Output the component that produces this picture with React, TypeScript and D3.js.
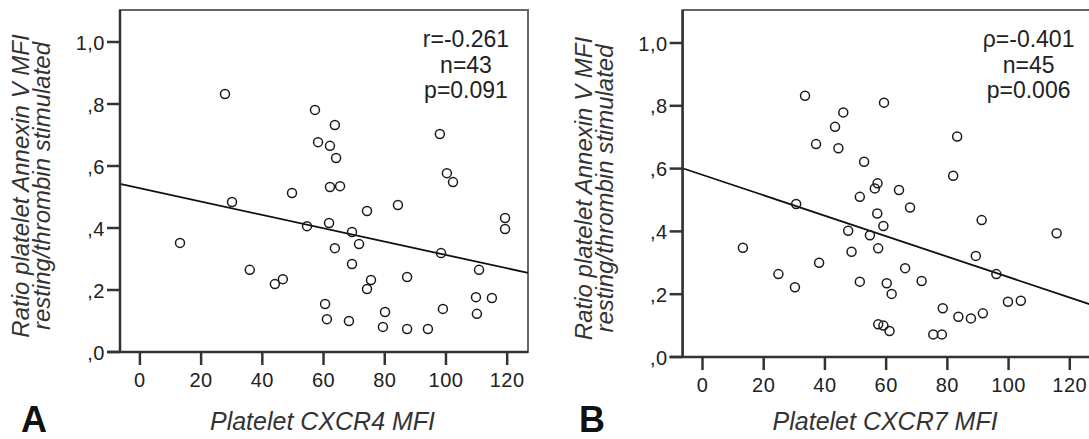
import * as d3 from "d3";

// axis ticks (SPSS style labels)
const xTicks = [0, 20, 40, 60, 80, 100, 120];
const yTicks = [0, 0.2, 0.4, 0.6, 0.8, 1.0];
const yTickLabels = [",0", ",2", ",4", ",6", ",8", "1,0"];

// Panel A: CXCR4 MFI vs Annexin V ratio
const cxcr4X = [13.1, 27.8, 30.1, 35.9, 44.1, 46.7, 49.7, 54.6, 57.2, 58.2, 62.1, 63.7, 64.1, 62.1, 65.4, 61.8, 63.7, 60.5, 61.1, 68.3, 69.3, 71.6, 69.3, 74.2, 75.5, 74.2, 84.3, 80.1, 79.4, 87.3, 87.3, 94.1, 98.0, 100.3, 102.3, 98.4, 99.0, 110.8, 109.8, 115.0, 110.1, 119.3, 119.3];
const cxcr4Y = [0.352, 0.832, 0.484, 0.265, 0.219, 0.235, 0.513, 0.406, 0.781, 0.677, 0.665, 0.732, 0.626, 0.532, 0.535, 0.416, 0.335, 0.155, 0.106, 0.1, 0.387, 0.348, 0.284, 0.455, 0.232, 0.203, 0.474, 0.129, 0.081, 0.242, 0.074, 0.074, 0.703, 0.577, 0.548, 0.319, 0.139, 0.265, 0.177, 0.174, 0.123, 0.432, 0.397];

// Panel B: CXCR7 MFI vs Annexin V ratio
const cxcr7X = [13.2, 24.8, 30.2, 30.6, 33.5, 37.1, 38.1, 43.3, 46.0, 44.4, 52.8, 51.4, 47.6, 48.7, 51.4, 54.7, 57.2, 56.3, 57.1, 59.3, 59.1, 57.4, 64.2, 67.8, 60.2, 61.8, 66.2, 71.6, 57.4, 59.1, 61.1, 75.4, 78.2, 78.5, 83.6, 87.7, 91.6, 83.2, 81.9, 91.2, 89.3, 96.0, 99.8, 104.0, 115.7];
const cxcr7Y = [0.348, 0.264, 0.222, 0.487, 0.832, 0.678, 0.3, 0.733, 0.779, 0.665, 0.622, 0.51, 0.402, 0.335, 0.24, 0.388, 0.553, 0.537, 0.457, 0.81, 0.417, 0.346, 0.532, 0.476, 0.235, 0.201, 0.283, 0.242, 0.104, 0.1, 0.083, 0.072, 0.072, 0.155, 0.128, 0.123, 0.139, 0.702, 0.577, 0.436, 0.322, 0.264, 0.176, 0.179, 0.394];

// regression lines
const fitA = { intercept: 0.528, slope: -0.00215 };
const fitB = { intercept: 0.58, slope: -0.003256 };

const statsA = ["r=-0.261", "n=43", "p=0.091"];
const statsB = ["\u03C1=-0.401", "n=45", "p=0.006"];

const FONT = "'Liberation Sans', Arial, sans-serif";
const INK = "#222";

type PanelProps = {
  left: number;
  top: number;
  bottom: number;
  unit: number;
  xs: number[];
  ys: number[];
  fit: { intercept: number; slope: number };
  stats: string[];
  xTitle: string;
  letter: string;
  letterX: number;
};

const Panel = ({ left, top, bottom, unit, xs, ys, fit, stats, xTitle, letter, letterX }: PanelProps) => {
  const width = 408;
  const right = left + width;
  const x = d3.scaleLinear().domain([-6.5, 126.8]).range([left, right]);
  const y = d3.scaleLinear().domain([0, 1]).range([bottom, bottom - unit]);
  const [d0, d1] = x.domain();
  const line = d3
    .line<number>()
    .x((d) => x(d))
    .y((d) => y(fit.intercept + fit.slope * d));
  const midX = (left + right) / 2;
  const titleY = 186 + (bottom - 352) / 2;

  return (
    <g>
      <rect x={left} y={top} width={width} height={bottom - top} fill="#fff" stroke="#666" strokeWidth={2} />
      {/* regression line */}
      <path d={line([d0, d1]) || ""} fill="none" stroke="#111" strokeWidth={1.8} />
      {/* points */}
      {xs.map((v, i) => (
        <circle key={i} cx={x(v)} cy={y(ys[i])} r={4.5} fill="none" stroke="#1a1a1a" strokeWidth={1.5} />
      ))}
      {/* axes */}
      <line x1={left} x2={left} y1={top} y2={bottom} stroke="#333" strokeWidth={2.5} />
      <line x1={left - 13} x2={right} y1={bottom} y2={bottom} stroke="#333" strokeWidth={2.5} />
      {yTicks.map((t, i) => (
        <g key={t}>
          <line x1={left - 13} x2={left} y1={y(t)} y2={y(t)} stroke="#333" strokeWidth={2.5} />
          <text x={left - 15} y={y(t) + 7.5} textAnchor="end" fontFamily={FONT} fontSize={20} letterSpacing={0.5} fill={INK}>
            {yTickLabels[i]}
          </text>
        </g>
      ))}
      {xTicks.map((t) => (
        <g key={t}>
          <line x1={x(t)} x2={x(t)} y1={bottom} y2={bottom + 13} stroke="#333" strokeWidth={2.5} />
          <text x={x(t)} y={bottom + 35} textAnchor="middle" fontFamily={FONT} fontSize={20} letterSpacing={0.5} fill={INK}>
            {t}
          </text>
        </g>
      ))}
      {/* stats */}
      {stats.map((s, i) => (
        <text key={s} x={right - 62} y={47 + i * 25.5} textAnchor="middle" fontFamily={FONT} fontSize={23} fill={INK}>
          {s}
        </text>
      ))}
      {/* y title */}
      <g transform={`translate(${left - 91},${titleY}) rotate(-90)`}>
        <text textAnchor="middle" fontFamily={FONT} fontSize={24} fontStyle="italic" fill="#333">
          Ratio platelet Annexin V MFI
        </text>
        <text y={21} textAnchor="middle" fontFamily={FONT} fontSize={24} fontStyle="italic" fill="#333">
          resting/thrombin stimulated
        </text>
      </g>
      {/* x title */}
      <text x={midX - 1.5} y={430} textAnchor="middle" fontFamily={FONT} fontSize={25} fontStyle="italic" fill="#333">
        {xTitle}
      </text>
      <text x={letterX} y={432} fontFamily={FONT} fontSize={36} fontWeight="bold" fill="#111">
        {letter}
      </text>
    </g>
  );
};

export default function App() {
  return (
    <div style={{ position: "absolute", left: 0, top: 0 }}>
      <svg width={1089} height={439} style={{ display: "block", background: "#fff" }}>
        <Panel left={120} top={10} bottom={352} unit={310} xs={cxcr4X} ys={cxcr4Y} fit={fitA} stats={statsA} xTitle="Platelet CXCR4 MFI" letter="A" letterX={21} />
        <Panel left={682.6} top={10} bottom={357} unit={314} xs={cxcr7X} ys={cxcr7Y} fit={fitB} stats={statsB} xTitle="Platelet CXCR7 MFI" letter="B" letterX={579} />
      </svg>
    </div>
  );
}
